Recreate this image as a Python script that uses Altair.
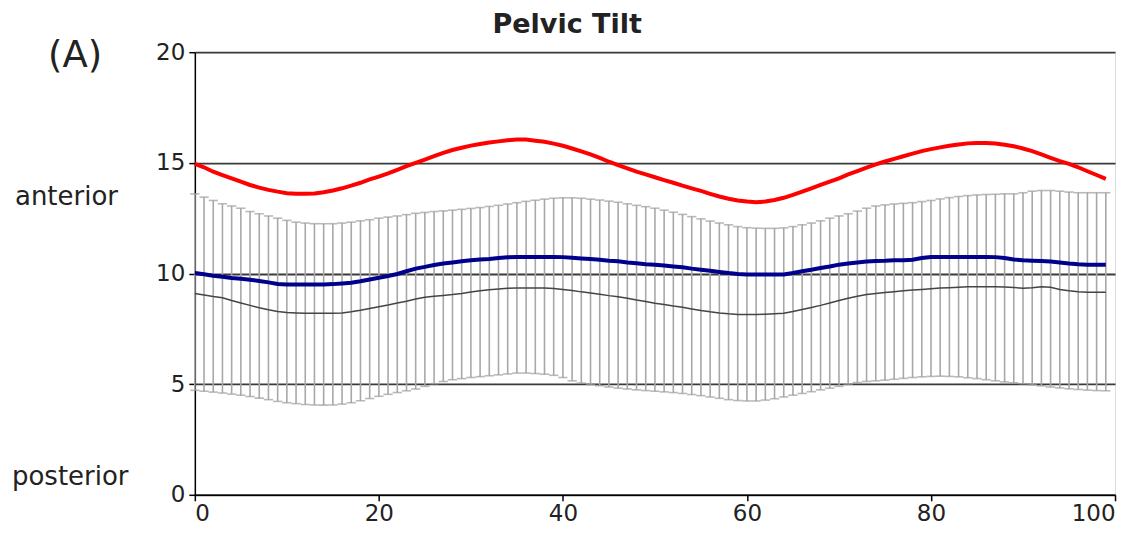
import altair as alt
import pandas as pd

pct = list(range(100))

red = [14.95, 14.8, 14.6, 14.45, 14.3, 14.15, 14.0, 13.88, 13.78, 13.7,
       13.63, 13.6, 13.6, 13.62, 13.67, 13.75, 13.85, 13.97, 14.1, 14.25,
       14.38, 14.52, 14.68, 14.85, 15.0, 15.15, 15.3, 15.45, 15.58, 15.68,
       15.78, 15.85, 15.92, 15.97, 16.02, 16.05, 16.05, 16.0, 15.95, 15.87,
       15.77, 15.65, 15.52, 15.38, 15.22, 15.05, 14.9, 14.75, 14.6, 14.48,
       14.35, 14.22, 14.1, 13.97, 13.85, 13.73, 13.6, 13.48, 13.38, 13.3,
       13.25, 13.22, 13.25, 13.32, 13.42, 13.55, 13.7, 13.85, 14.0, 14.15,
       14.3, 14.48, 14.63, 14.78, 14.93, 15.06, 15.18, 15.3, 15.42, 15.53,
       15.62, 15.7, 15.77, 15.83, 15.88, 15.9, 15.9, 15.87, 15.82, 15.75,
       15.65, 15.53, 15.38, 15.23, 15.08, 14.95, 14.8, 14.62, 14.45, 14.28]

blue = [10.02, 9.97, 9.9, 9.85, 9.8, 9.76, 9.72, 9.66, 9.6, 9.53,
        9.5, 9.5, 9.5, 9.5, 9.5, 9.52, 9.55, 9.58, 9.65, 9.73,
        9.81, 9.89, 9.98, 10.1, 10.22, 10.3, 10.38, 10.45, 10.5, 10.55,
        10.6, 10.63, 10.66, 10.7, 10.73, 10.75, 10.75, 10.75, 10.75, 10.75,
        10.74, 10.71, 10.68, 10.65, 10.62, 10.58, 10.55, 10.5, 10.46, 10.42,
        10.4, 10.36, 10.32, 10.28, 10.22, 10.17, 10.12, 10.07, 10.02, 9.98,
        9.95, 9.95, 9.95, 9.95, 9.96, 10.02, 10.1, 10.17, 10.25, 10.32,
        10.4, 10.45, 10.5, 10.54, 10.57, 10.58, 10.6, 10.6, 10.62, 10.7,
        10.75, 10.75, 10.75, 10.75, 10.75, 10.75, 10.75, 10.74, 10.7, 10.63,
        10.6, 10.58, 10.56, 10.54, 10.5, 10.45, 10.42, 10.4, 10.4, 10.4]

mean = [9.1, 9.03, 8.96, 8.9, 8.78, 8.67, 8.56, 8.45, 8.36, 8.28,
        8.24, 8.22, 8.2, 8.2, 8.2, 8.2, 8.21, 8.27, 8.34, 8.42,
        8.5, 8.58, 8.67, 8.75, 8.85, 8.93, 8.97, 9.01, 9.05, 9.1,
        9.16, 9.22, 9.27, 9.3, 9.33, 9.35, 9.35, 9.35, 9.34, 9.32,
        9.28, 9.23, 9.17, 9.12, 9.06, 9.0, 8.95, 8.88, 8.8, 8.73,
        8.66, 8.6, 8.53, 8.47, 8.4, 8.33, 8.27, 8.22, 8.18, 8.15,
        8.15, 8.15, 8.16, 8.18, 8.2, 8.28, 8.37, 8.46, 8.56, 8.67,
        8.78, 8.88, 8.97, 9.05, 9.1, 9.14, 9.18, 9.22, 9.25, 9.28,
        9.31, 9.34, 9.36, 9.38, 9.4, 9.4, 9.4, 9.4, 9.39, 9.37,
        9.33, 9.36, 9.4, 9.38, 9.28, 9.22, 9.18, 9.15, 9.15, 9.15]

upper = [13.6, 13.45, 13.3, 13.15, 13.05, 12.95, 12.8, 12.7, 12.6, 12.5,
         12.4, 12.32, 12.28, 12.25, 12.25, 12.25, 12.28, 12.32, 12.38, 12.43,
         12.5, 12.55, 12.6, 12.66, 12.72, 12.76, 12.8, 12.83, 12.86, 12.9,
         12.94, 12.98, 13.03, 13.08, 13.14, 13.2, 13.26, 13.31, 13.36, 13.4,
         13.42, 13.42, 13.4, 13.36, 13.32, 13.27, 13.22, 13.15, 13.08, 13.02,
         12.95, 12.86, 12.77, 12.67, 12.57, 12.47, 12.37, 12.28, 12.2, 12.12,
         12.07, 12.05, 12.04, 12.04, 12.06, 12.12, 12.2, 12.28, 12.38, 12.5,
         12.6, 12.7, 12.82, 12.95, 13.05, 13.1, 13.14, 13.17, 13.2, 13.25,
         13.3, 13.37, 13.43, 13.48, 13.52, 13.55, 13.57, 13.58, 13.6, 13.6,
         13.65, 13.72, 13.75, 13.75, 13.72, 13.68, 13.65, 13.65, 13.65, 13.65]

lower = [4.72, 4.68, 4.64, 4.6, 4.55, 4.5, 4.44, 4.37, 4.3, 4.22,
         4.16, 4.12, 4.08, 4.06, 4.05, 4.06, 4.1, 4.16, 4.25, 4.35,
         4.45, 4.54, 4.62, 4.7, 4.78, 4.9, 5.02, 5.12, 5.2, 5.25,
         5.3, 5.34, 5.38, 5.42, 5.46, 5.5, 5.5, 5.48, 5.45, 5.4,
         5.3, 5.15, 5.05, 4.98, 4.93, 4.87, 4.82, 4.78, 4.74, 4.71,
         4.68, 4.65, 4.62, 4.58, 4.53, 4.48, 4.42, 4.36, 4.3, 4.26,
         4.24, 4.24, 4.28, 4.34, 4.42, 4.5, 4.58, 4.66, 4.74, 4.82,
         4.9, 5.0, 5.07, 5.12, 5.15, 5.18, 5.22, 5.26, 5.3, 5.33,
         5.35, 5.36, 5.35, 5.33, 5.29, 5.25, 5.2, 5.15, 5.1, 5.06,
         5.02, 4.97, 4.92, 4.87, 4.83, 4.79, 4.76, 4.73, 4.71, 4.7]

x_ticks = [0, 20, 40, 60, 80, 100]
y_ticks = [0, 5, 10, 15, 20]

title_text = "Pelvic Tilt"
panel_label = "(A)"
top_label = "anterior"
bottom_label = "posterior"

FONT = "DejaVu Sans"

df = pd.DataFrame({"pct": pct, "red": red, "blue": blue, "mean": mean,
                   "upper": upper, "lower": lower})

xenc = alt.X("pct:Q",
             scale=alt.Scale(domain=[0, 100], nice=False, zero=False),
             axis=alt.Axis(values=x_ticks, grid=False, title=None,
                           labelFont=FONT, labelFontSize=23, labelColor="#222",
                           domainColor="#000", domainWidth=1.5,
                           tickColor="#000", tickWidth=1.5, tickSize=6,
                           labelPadding=2, format="d"))
yscale = alt.Scale(domain=[0, 20], nice=False)
yaxis = alt.Axis(values=y_ticks, grid=True, gridColor="#3a3a3a", gridWidth=1.8,
                 title=None, labelFont=FONT, labelFontSize=23, labelColor="#222",
                 domainColor="#000", domainWidth=1.5,
                 tickColor="#000", tickWidth=1.5, tickSize=6, labelPadding=4)

base = alt.Chart(df)

bars = base.mark_rule(color="#a8a8a8", strokeWidth=1.6).encode(
    x=xenc, y=alt.Y("lower:Q", scale=yscale, axis=yaxis), y2="upper:Q")
cap_top = base.mark_tick(color="#9c9c9c", thickness=1.6, size=9.3,
                         orient="horizontal").encode(x="pct:Q", y="upper:Q")
cap_bot = base.mark_tick(color="#9c9c9c", thickness=1.6, size=9.3,
                         orient="horizontal").encode(x="pct:Q", y="lower:Q")
mean_line = base.mark_line(color="#444444", strokeWidth=1.5).encode(
    x="pct:Q", y="mean:Q")
blue_line = base.mark_line(color="#00008c", strokeWidth=4).encode(
    x="pct:Q", y="blue:Q")
red_line = base.mark_line(color="#ff0000", strokeWidth=4).encode(
    x="pct:Q", y="red:Q")

def label(txt, px, py, size, weight="normal"):
    return alt.Chart(pd.DataFrame({"t": [txt]})).mark_text(
        font=FONT, fontSize=size, fontWeight=weight, color="#222",
        align="left", baseline="alphabetic").encode(
        x=alt.value(px), y=alt.value(py), text="t:N")

labels = (label(panel_label, -147, 15, 37)
          + label(top_label, -180, 153, 26)
          + label(bottom_label, -183, 433, 26)
          + label(title_text, 298, -19, 27, "bold"))

chart = alt.layer(bars, cap_top, cap_bot, mean_line, blue_line, red_line,
                  labels).properties(
    width=921, height=443,
    autosize=alt.AutoSizeParams(type="none"),
    padding={"left": 187, "top": 44, "right": 14, "bottom": 40},
).configure_view(stroke=None).configure(background="white")

chart.save("out.html", embed_options={"renderer": "svg", "actions": False})
